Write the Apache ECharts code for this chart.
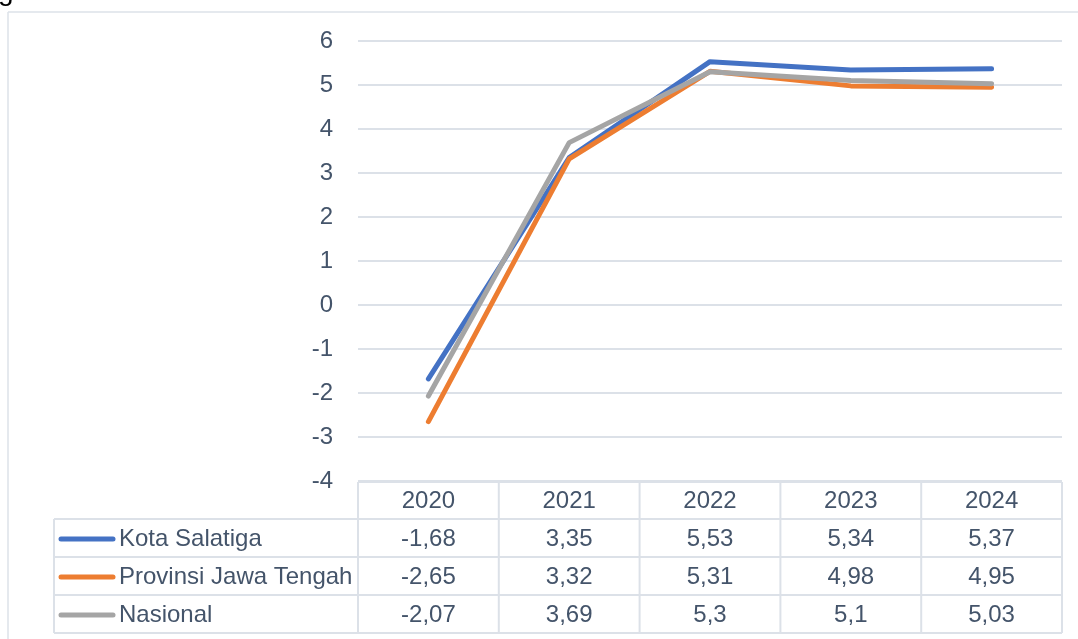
<!DOCTYPE html>
<html>
<head>
<meta charset="utf-8">
<script src="https://cdn.jsdelivr.net/npm/echarts@6/dist/echarts.min.js"></script>
<style>
html,body{margin:0;padding:0;background:#fff;}
#c{width:1078px;height:639px;}
</style>
</head>
<body>
<div id="c"></div>
<script>
const years = ['2020', '2021', '2022', '2023', '2024'];
const seriesNames = ['Kota Salatiga', 'Provinsi Jawa Tengah', 'Nasional'];
const kotaSalatiga = [-1.68, 3.35, 5.53, 5.34, 5.37];
const jawaTengah = [-2.65, 3.32, 5.31, 4.98, 4.95];
const nasional = [-2.07, 3.69, 5.3, 5.1, 5.03];
const colors = ['#4472C4', '#ED7D31', '#A5A5A5'];
const yMin = -4, yMax = 6, yStep = 1;

const allValues = [kotaSalatiga, jawaTengah, nasional];
const textColor = '#44546A';
const borderColor = '#DCE1E8';
const font = '"Liberation Sans", Arial, sans-serif';
const fs = 24;

const chart = echarts.init(document.getElementById('c'), null, {renderer: 'canvas'});

const option = {
  animation: false,
  backgroundColor: '#fff',
  grid: {left: 358, right: 16, top: 41, bottom: 158, containLabel: false},
  xAxis: {
    type: 'category',
    data: years,
    boundaryGap: true,
    axisLine: {show: false},
    axisTick: {show: false},
    axisLabel: {show: false},
    splitLine: {show: false}
  },
  yAxis: {
    type: 'value',
    min: yMin, max: yMax, interval: yStep,
    axisLine: {show: false},
    axisTick: {show: false},
    axisLabel: {color: textColor, fontSize: fs, fontFamily: font, margin: 25},
    splitLine: {lineStyle: {color: borderColor, width: 2}}
  },
  series: allValues.map((d, i) => ({
    name: seriesNames[i],
    type: 'line',
    data: d,
    symbol: 'none',
    smooth: false,
    z: 2 + i,
    lineStyle: {color: colors[i], width: 5, cap: 'round', join: 'round'}
  }))
};
chart.setOption(option);

function fmt(v) { return String(v).replace('.', ','); }

function buildTable() {
  const g = [];
  const centers = years.map((y, i) => chart.convertToPixel({xAxisIndex: 0}, i));
  const colW = centers.length > 1 ? centers[1] - centers[0] : 140;
  const left = centers[0] - colW / 2;
  const right = centers[centers.length - 1] + colW / 2;
  const top = chart.convertToPixel({yAxisIndex: 0}, yMin) + 1;
  const headerH = 37;
  const rowH = 38;
  const legendLeft = 54;
  const lineStyle = {stroke: borderColor, lineWidth: 2};

  // chart outer border
  g.push({type: 'line', shape: {x1: 8, y1: 12, x2: 1078, y2: 12}, style: {stroke: '#DDE2E8', lineWidth: 1.5}});
  g.push({type: 'line', shape: {x1: 8, y1: 12, x2: 8, y2: 639}, style: {stroke: '#DDE2E8', lineWidth: 1.5}});
  // cut-off glyph at top-left
  g.push({type: 'text', x: -2, y: -22, style: {text: 'g', fill: '#000', font: '28px ' + font}});

  // header top
  g.push({type: 'line', shape: {x1: left, y1: top, x2: right, y2: top}, style: lineStyle});
  // horizontal row lines
  for (let r = 0; r <= seriesNames.length; r++) {
    const y = top + headerH + r * rowH;
    g.push({type: 'line', shape: {x1: legendLeft, y1: y, x2: right, y2: y}, style: lineStyle});
  }
  const bottom = top + headerH + seriesNames.length * rowH;
  // vertical lines
  for (let c = 0; c <= years.length; c++) {
    const x = left + c * colW;
    g.push({type: 'line', shape: {x1: x, y1: top, x2: x, y2: bottom}, style: lineStyle});
  }
  g.push({type: 'line', shape: {x1: legendLeft, y1: top + headerH, x2: legendLeft, y2: bottom}, style: lineStyle});

  // header text
  years.forEach((y, i) => {
    g.push({type: 'text', x: centers[i], y: top + headerH / 2 + 1,
      style: {text: y, fill: textColor, font: fs + 'px ' + font, textAlign: 'center', textVerticalAlign: 'middle'}});
  });
  // rows
  seriesNames.forEach((name, r) => {
    const cy = top + headerH + r * rowH + rowH / 2 + 1;
    g.push({type: 'line', shape: {x1: 61, y1: cy, x2: 113, y2: cy},
      style: {stroke: colors[r], lineWidth: 5, lineCap: 'round'}});
    g.push({type: 'text', x: 119, y: cy,
      style: {text: name, fill: textColor, font: fs + 'px ' + font, textAlign: 'left', textVerticalAlign: 'middle'}});
    allValues[r].forEach((v, i) => {
      g.push({type: 'text', x: centers[i], y: cy,
        style: {text: fmt(v), fill: textColor, font: fs + 'px ' + font, textAlign: 'center', textVerticalAlign: 'middle'}});
    });
  });
  chart.setOption({graphic: g.map(e => Object.assign({silent: true}, e))});
}
buildTable();
</script>
</body>
</html>
